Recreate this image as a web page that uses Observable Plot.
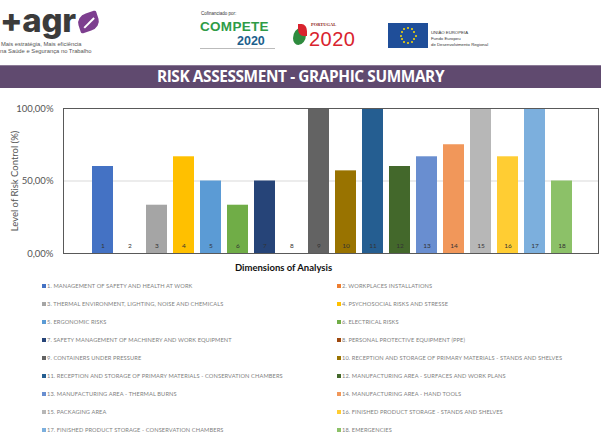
<!DOCTYPE html>
<html>
<head>
<meta charset="utf-8">
<script src="https://cdn.jsdelivr.net/npm/d3@7"></script>
<script src="https://cdn.jsdelivr.net/npm/@observablehq/plot@0.6"></script>
<style>
  body { margin: 0; background: #fff; }
  #page { position: relative; width: 601px; height: 442px; overflow: hidden; font-family: Lato, "Open Sans", sans-serif; background: #fff; }
  .abs { position: absolute; white-space: nowrap; line-height: 1; }
  .leg { position: absolute; font-size: 5.7px; color: #7f7f7f; letter-spacing: 0.1px; white-space: nowrap; line-height: 1; }
  .leg i { display: inline-block; width: 3.5px; height: 3.5px; margin-right: 1.5px; vertical-align: 0.3px; }
</style>
</head>
<body>
<div id="page">
  <!-- +agro logo -->
  <div class="abs" style="left:0px;top:4px;font-family:Inter,'DejaVu Sans',sans-serif;font-weight:800;font-size:33px;color:#3b3b3b;letter-spacing:-0.3px;">+agr</div>
  <div class="abs" style="left:78px;top:13px;width:21px;height:18px;border-radius:50% 10% 50% 10%;background:#7d3e8f;transform:rotate(-18deg);"></div>
  <div class="abs" style="left:82px;top:22px;width:14px;height:1.5px;background:#fff;transform:rotate(-45deg);"></div>
  <div class="abs" style="left:1px;top:42px;font-size:5.8px;color:#555;font-family:'Liberation Sans',sans-serif;">Mais estratégia, Mais eficiência</div>
  <div class="abs" style="left:0px;top:49px;font-size:5.8px;color:#555;font-family:'Liberation Sans',sans-serif;">na Saúde e Segurança no Trabalho</div>

  <!-- COMPETE 2020 -->
  <div class="abs" style="left:201px;top:12px;font-size:4.5px;color:#333;font-family:'Liberation Sans',sans-serif;">Cofinanciado por:</div>
  <div class="abs" style="left:200px;top:20px;font-size:13.5px;font-weight:700;color:#2e9b46;font-family:'Liberation Sans',sans-serif;letter-spacing:0.3px;">COMPETE</div>
  <div class="abs" style="left:237px;top:35px;font-size:12.5px;font-weight:700;color:#1c5f8c;font-family:'Liberation Sans',sans-serif;">2020</div>
  <div class="abs" style="left:200px;top:48px;width:75px;height:1px;background:#bbb;"></div>

  <!-- PORTUGAL 2020 -->
  <div class="abs" style="left:293px;top:28px;width:13px;height:17px;background:#2e8b3e;border-radius:60% 0 60% 40%;"></div>
  <div class="abs" style="left:298px;top:24px;width:9px;height:12px;background:#d9232e;border-radius:0 60% 0 60%;"></div>
  <div class="abs" style="left:311px;top:23px;font-size:4.5px;font-weight:700;color:#8b1a1a;font-family:'Liberation Serif',serif;">PORTUGAL</div>
  <div class="abs" style="left:309px;top:29px;font-size:20px;color:#d9232e;font-family:'Liberation Sans',sans-serif;letter-spacing:0.5px;">2020</div>

  <!-- EU -->
  <div id="eu" class="abs" style="left:388px;top:23px;width:40px;height:25px;background:#1f4e99;"></div>
  <div class="abs" style="left:431px;top:30px;font-size:4.3px;color:#333;font-family:'Liberation Sans',sans-serif;line-height:6px;">UNIÃO EUROPEIA<br>Fundo Europeu<br>de Desenvolvimento Regional</div>

  <!-- banner -->
  <div class="abs" style="left:0;top:65px;width:601px;height:22px;background:#604a6f;border-top:1px solid #8b7a96;"></div>
  <div class="abs" style="left:0;top:66px;width:601px;text-align:center;color:#fff;font-weight:700;font-size:15.4px;line-height:21px;font-family:'Open Sans',sans-serif;letter-spacing:-0.4px;">RISK ASSESSMENT - GRAPHIC SUMMARY</div>

  <div id="chart" class="abs" style="left:0;top:98px;"></div>
  <div class="abs" style="left:0;top:263px;width:601px;text-align:center;font-weight:700;font-size:9.5px;color:#111;"><span style="position:relative;left:-17px;">Dimensions of Analysis</span></div>

  <div id="legend"></div>
</div>
<script>
const dims = ["1","2","3","4","5","6","7","8","9","10","11","12","13","14","15","16","17","18"];
const values = [0.60, 0, 0.333, 0.667, 0.50, 0.333, 0.50, 0, 1.0, 0.57, 1.0, 0.60, 0.667, 0.75, 1.0, 0.667, 1.0, 0.50];
const colors = ["#4472C4","#ED7D31","#A5A5A5","#FFC000","#5B9BD5","#70AD47","#264478","#9E480E","#636363","#997300","#255E91","#43682B","#698ED0","#F1975A","#B7B7B7","#FFCD33","#7CAFDD","#8CC168"];
const names = [
  "MANAGEMENT OF SAFETY AND HEALTH AT WORK",
  "WORKPLACES INSTALLATIONS",
  "THERMAL ENVIRONMENT, LIGHTING, NOISE AND CHEMICALS",
  "PSYCHOSOCIAL RISKS AND STRESSE",
  "ERGONOMIC RISKS",
  "ELECTRICAL RISKS",
  "SAFETY MANAGEMENT OF MACHINERY AND WORK EQUIPMENT",
  "PERSONAL PROTECTIVE EQUIPMENT (PPE)",
  "CONTAINERS UNDER PRESSURE",
  "RECEPTION AND STORAGE OF PRIMARY MATERIALS - STANDS AND SHELVES",
  "RECEPTION AND STORAGE OF PRIMARY MATERIALS - CONSERVATION CHAMBERS",
  "MANUFACTURING AREA - SURFACES AND WORK PLANS",
  "MANUFACTURING AREA - THERMAL BURNS",
  "MANUFACTURING AREA - HAND TOOLS",
  "PACKAGING AREA",
  "FINISHED PRODUCT STORAGE - STANDS AND SHELVES",
  "FINISHED PRODUCT STORAGE - CONSERVATION CHAMBERS",
  "EMERGENCIES"
];
const yTicks = [0, 0.5, 1];

const data = dims.map((d, i) => ({dim: d, value: values[i], color: colors[i], name: names[i]}));
const fmt = v => (v * 100).toFixed(2).replace(".", ",") + "%";

const chart = Plot.plot({
  width: 601, height: 180,
  marginLeft: 63, marginRight: 3, marginTop: 10, marginBottom: 25,
  style: {fontFamily: "Lato, 'Open Sans', sans-serif", background: "transparent"},
  x: {domain: dims, padding: 0.24, insetLeft: 17, insetRight: 15, axis: null},
  y: {domain: [0, 1], axis: null},
  color: {type: "identity"},
  marks: [
    Plot.gridY(yTicks.filter(t => t > 0 && t < 1), {stroke: "#d9d9d9", strokeOpacity: 1}),
    Plot.barY(data, {x: "dim", y: "value", fill: "color"}),
    Plot.text(data, {x: "dim", y: 0, dy: -8, text: "dim", fontSize: 6.5, fill: "#333"}),
    Plot.frame({stroke: "#595959", strokeWidth: 1}),
    Plot.axisY({ticks: yTicks, tickSize: 0, tickPadding: 10, tickFormat: fmt, fontSize: 9.5, color: "#555",
      label: "Level of Risk Control (%)", labelAnchor: "center", labelArrow: "none", labelOffset: 52})
  ]
});
document.getElementById("chart").appendChild(chart);

// legend (two columns, numbered as in the chart)
const legend = document.getElementById("legend");
data.forEach((d, i) => {
  const col = i % 2, row = Math.floor(i / 2);
  const el = document.createElement("div");
  el.className = "leg";
  el.style.left = (col === 0 ? 42 : 337) + "px";
  el.style.top = (283 + row * 18) + "px";
  el.innerHTML = `<i style="background:${d.color}"></i>${d.dim}. ${d.name}`;
  legend.appendChild(el);
});

// EU flag stars
const eu = document.getElementById("eu");
for (let k = 0; k < 12; k++) {
  const a = k / 12 * 2 * Math.PI;
  const s = document.createElement("div");
  s.style.cssText = `position:absolute;width:2px;height:2px;background:#ffdd00;border-radius:50%;left:${19 + 7.5 * Math.cos(a)}px;top:${11.5 + 7.5 * Math.sin(a)}px;`;
  eu.appendChild(s);
}
</script>
</body>
</html>
